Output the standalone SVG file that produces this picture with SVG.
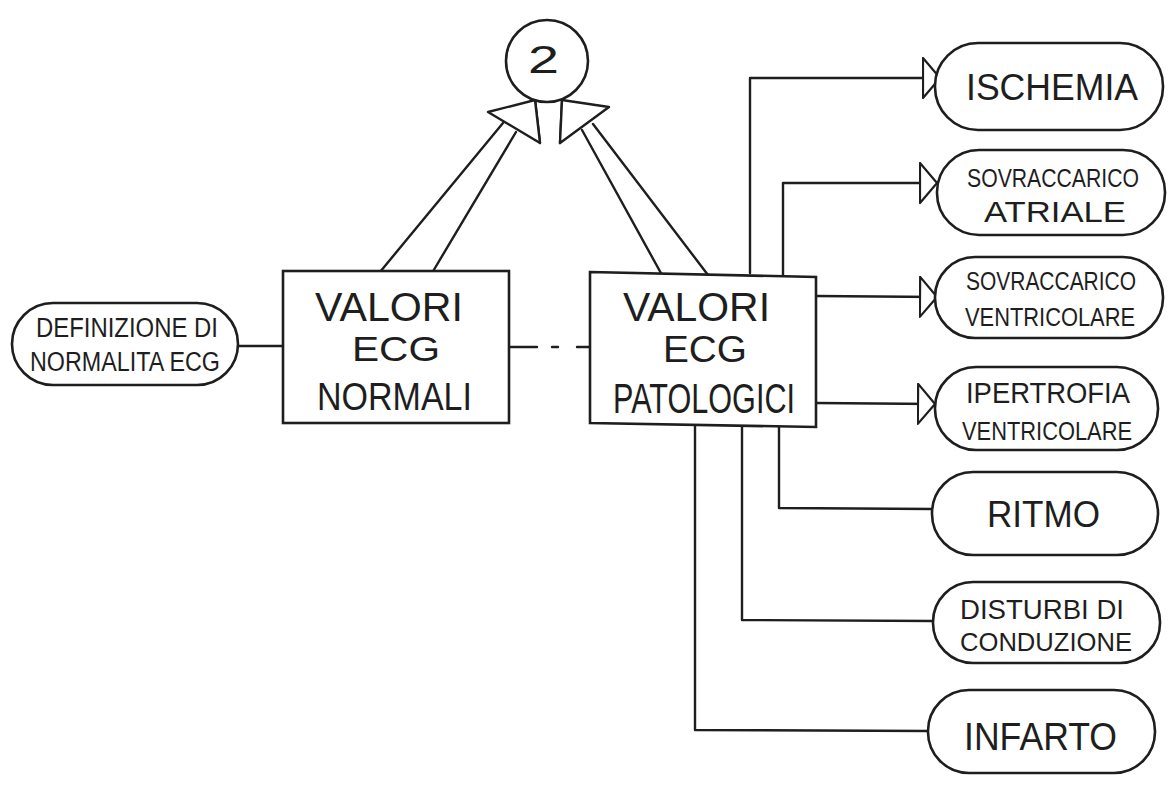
<svg xmlns="http://www.w3.org/2000/svg" width="1176" height="787" viewBox="0 0 1176 787">
<style>
  .s{fill:none;stroke:#1e1e1e;stroke-width:2.4;stroke-linecap:round;stroke-linejoin:round}
  .n{fill:#fff;stroke:#1e1e1e;stroke-width:2.6}
  .t{font-family:"Liberation Sans",Arial,sans-serif;fill:#1e1e1e;font-weight:normal}
  .m{text-anchor:middle}
  .hd{fill:#fff;stroke:#1e1e1e;stroke-width:2.4;stroke-linejoin:round}
</style>
<defs>
  <marker id="tri" markerUnits="userSpaceOnUse" markerWidth="22" markerHeight="44" refX="18" refY="21" orient="auto" viewBox="0 0 22 44">
    <path d="M1,1 L18,21 L1,41 Z" fill="#fff" stroke="#1e1e1e" stroke-width="2.2" stroke-linejoin="round"/>
  </marker>
</defs>
<rect width="1176" height="787" fill="#fff"/>

<g id="connectors">
  <line class="s" x1="380" y1="272" x2="503" y2="123"/>
  <line class="s" x1="432" y1="273" x2="516" y2="132"/>
  <line class="s" x1="662" y1="275" x2="582" y2="130"/>
  <line class="s" x1="708" y1="275" x2="593" y2="124"/>
  <line class="s" x1="535" y1="99" x2="540" y2="143"/>
  <line class="s" x1="562" y1="100" x2="560" y2="143"/>
  <polygon class="hd" points="488,112 535,100 540,143"/>
  <polygon class="hd" points="562,100 609,107 560,143"/>
  <line class="s" x1="238" y1="346" x2="283" y2="346"/>
  <line class="s" x1="509" y1="347" x2="537" y2="347"/>
  <line class="s" x1="552" y1="347" x2="558" y2="347"/>
  <line class="s" x1="577" y1="347" x2="590" y2="347"/>
  <polyline class="s" points="750,273 750,78 940,78" marker-end="url(#tri)"/>
  <polyline class="s" points="783,277 783,183 937,183" marker-end="url(#tri)"/>
  <line class="s" x1="816" y1="296" x2="937" y2="297" marker-end="url(#tri)"/>
  <line class="s" x1="816" y1="403" x2="935" y2="404" marker-end="url(#tri)"/>
  <polyline class="s" points="779,426 779,508 932,509"/>
  <polyline class="s" points="742,426 742,620 933,621"/>
  <polyline class="s" points="695,426 695,730 928,731"/>
</g>

<g id="circle2">
  <circle class="n" cx="547" cy="61" r="41"/>
  <text class="t" x="528" y="73" font-size="38" textLength="31" lengthAdjust="spacingAndGlyphs">2</text>
</g>

<g id="def-normalita">
  <rect class="n" x="12" y="303" width="226" height="82" rx="41"/>
  <text class="t" x="36" y="337" font-size="27" textLength="182" lengthAdjust="spacingAndGlyphs">DEFINIZIONE DI</text>
  <text class="t" x="30" y="371" font-size="27" textLength="190" lengthAdjust="spacingAndGlyphs">NORMALITA ECG</text>
</g>

<g id="valori-normali">
  <rect class="n" x="283" y="271" width="226" height="152"/>
  <text class="t" x="315" y="321" font-size="40" textLength="148" lengthAdjust="spacingAndGlyphs">VALORI</text>
  <text class="t" x="352" y="361" font-size="35" textLength="88" lengthAdjust="spacingAndGlyphs">ECG</text>
  <text class="t" x="317" y="410" font-size="38" textLength="155" lengthAdjust="spacingAndGlyphs">NORMALI</text>
</g>

<g id="valori-patologici">
  <polygon class="n" points="590,272 816,277 816,427 590,423"/>
  <text class="t" x="623" y="321" font-size="40" textLength="147" lengthAdjust="spacingAndGlyphs">VALORI</text>
  <text class="t" x="663" y="362" font-size="36" textLength="84" lengthAdjust="spacingAndGlyphs">ECG</text>
  <text class="t" x="613" y="413" font-size="42" textLength="182" lengthAdjust="spacingAndGlyphs">PATOLOGICI</text>
</g>

<g id="ischemia">
  <rect class="n" x="935" y="43" width="228" height="87" rx="43"/>
  <text class="t" x="966" y="100" font-size="37" textLength="172" lengthAdjust="spacingAndGlyphs">ISCHEMIA</text>
</g>

<g id="sovraccarico-atriale">
  <rect class="n" x="937" y="150" width="228" height="85" rx="42"/>
  <text class="t m" x="1053" y="187" font-size="25" textLength="172" lengthAdjust="spacingAndGlyphs">SOVRACCARICO</text>
  <text class="t m" x="1055" y="222" font-size="30" textLength="142" lengthAdjust="spacingAndGlyphs">ATRIALE</text>
</g>

<g id="sovraccarico-ventricolare">
  <rect class="n" x="935" y="257" width="228" height="81" rx="40"/>
  <text class="t m" x="1051" y="290" font-size="25" textLength="170" lengthAdjust="spacingAndGlyphs">SOVRACCARICO</text>
  <text class="t m" x="1050" y="326" font-size="26" textLength="170" lengthAdjust="spacingAndGlyphs">VENTRICOLARE</text>
</g>

<g id="ipertrofia-ventricolare">
  <rect class="n" x="935" y="367" width="223" height="83" rx="41"/>
  <text class="t" x="966" y="403" font-size="30" textLength="164" lengthAdjust="spacingAndGlyphs">IPERTROFIA</text>
  <text class="t m" x="1047" y="440" font-size="26" textLength="170" lengthAdjust="spacingAndGlyphs">VENTRICOLARE</text>
</g>

<g id="ritmo">
  <rect class="n" x="932" y="472" width="226" height="83" rx="41"/>
  <text class="t" x="987" y="527" font-size="36" textLength="113" lengthAdjust="spacingAndGlyphs">RITMO</text>
</g>

<g id="disturbi-conduzione">
  <rect class="n" x="933" y="582" width="227" height="81" rx="40"/>
  <text class="t" x="960" y="619" font-size="28" textLength="164" lengthAdjust="spacingAndGlyphs">DISTURBI DI</text>
  <text class="t" x="960" y="651" font-size="25" textLength="172" lengthAdjust="spacingAndGlyphs">CONDUZIONE</text>
</g>

<g id="infarto">
  <rect class="n" x="928" y="690" width="227" height="83" rx="41"/>
  <text class="t" x="964" y="750" font-size="38" textLength="153" lengthAdjust="spacingAndGlyphs">INFARTO</text>
</g>
</svg>
